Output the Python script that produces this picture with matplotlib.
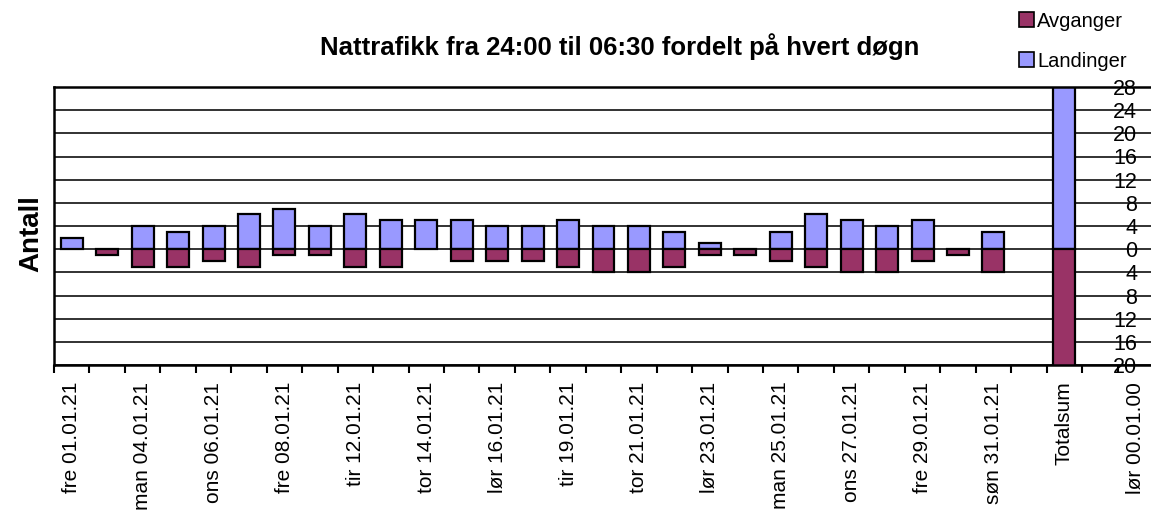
import numpy as np
import matplotlib.pyplot as plt
from matplotlib.patches import Patch

plt.rcParams['font.family'] = ['Liberation Sans', 'DejaVu Sans']

# Categories (every other one gets a visible label, like in the Excel chart)
dager = ['fre 01.01.21', 'søn 03.01.21', 'man 04.01.21', 'tir 05.01.21', 'ons 06.01.21',
         'tor 07.01.21', 'fre 08.01.21', 'søn 10.01.21', 'tir 12.01.21', 'ons 13.01.21',
         'tor 14.01.21', 'fre 15.01.21', 'lør 16.01.21', 'man 18.01.21', 'tir 19.01.21',
         'ons 20.01.21', 'tor 21.01.21', 'fre 22.01.21', 'lør 23.01.21', 'søn 24.01.21',
         'man 25.01.21', 'tir 26.01.21', 'ons 27.01.21', 'tor 28.01.21', 'fre 29.01.21',
         'lør 30.01.21', 'søn 31.01.21', '', 'Totalsum', '', 'lør 00.01.00']

landinger = [2, 0, 4, 3, 4, 6, 7, 4, 6, 5, 5, 5, 4, 4, 5, 4, 4, 3, 1, 0, 3, 6, 5, 4, 5, 0, 3,
             0, 102, 0, 0]
avganger = [0, 1, 3, 3, 2, 3, 1, 1, 3, 3, 0, 2, 2, 2, 3, 4, 4, 3, 1, 1, 2, 3, 4, 4, 2, 1, 4,
            0, 62, 0, 0]

yticks = [-20, -16, -12, -8, -4, 0, 4, 8, 12, 16, 20, 24, 28]

farge_land = '#9999FF'
farge_avg = '#993366'

x = np.arange(len(dager))
land = np.array(landinger, dtype=float)
avg = np.array(avganger, dtype=float)

fig = plt.figure(figsize=(11.51, 5.13), dpi=100)
ax = fig.add_axes([54 / 1151, 148 / 513, 1099 / 1151, 278 / 513])

m = land > 0
ax.bar(x[m], land[m], width=0.62, color=farge_land, edgecolor='black', linewidth=1.6)
m = avg > 0
ax.bar(x[m], -avg[m], width=0.62, color=farge_avg, edgecolor='black', linewidth=1.6)

ax.set_xlim(-0.5, len(dager) - 0.5)
ax.set_ylim(-20, 28)

ax.set_yticks(yticks)
ax.set_yticklabels([str(abs(v)) for v in yticks])
ax.yaxis.tick_right()
ax.tick_params(axis='y', length=0, pad=-11.5, labelsize=15.5)
for lab in ax.get_yticklabels():
    lab.set_horizontalalignment('right')
ax.grid(axis='y', color='#222222', linewidth=1.3)
ax.set_axisbelow(True)

ax.set_xticks(x[::2])
ax.set_xticklabels(dager[::2], rotation=90, fontsize=15)
ax.set_xticks(np.arange(-0.5, len(dager), 1), minor=True)
ax.tick_params(axis='x', which='major', length=0, pad=12)
ax.tick_params(axis='x', which='minor', length=6, width=1.5, direction='out')

for s in ['left', 'top', 'bottom']:
    ax.spines[s].set_linewidth(1.8)
ax.spines['right'].set_visible(False)

fig.text(0.538, 0.91, 'Nattrafikk fra 24:00 til 06:30 fordelt på hvert døgn',
         ha='center', va='center', fontsize=18.5, fontweight='bold')
fig.text(0.027, 0.545, 'Antall', rotation=90, ha='center', va='center',
         fontsize=20, fontweight='bold')

handles = [Patch(facecolor=farge_avg, edgecolor='black', linewidth=1.2),
           Patch(facecolor=farge_land, edgecolor='black', linewidth=1.2)]
fig.legend(handles, ['Avganger', 'Landinger'], loc='upper left',
           bbox_to_anchor=(1005 / 1151, 1.005), frameon=False, fontsize=14.5,
           handlelength=0.75, handleheight=0.75, handletextpad=0.15,
           labelspacing=1.05, borderaxespad=0.3)

fig.savefig('out.png', dpi=100)
